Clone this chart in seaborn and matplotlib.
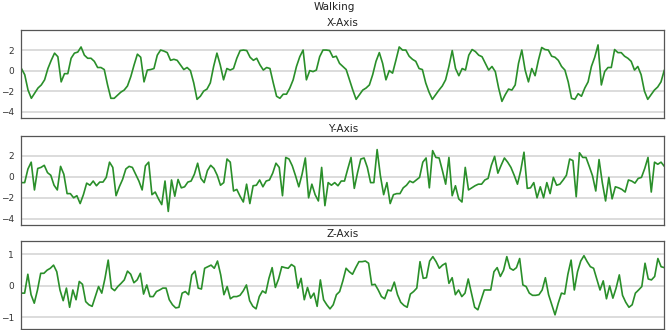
import matplotlib
matplotlib.use("Agg")
import matplotlib.pyplot as plt
import numpy as np
import seaborn as sns

# accelerometer readings, walking window
x_axis = [
    0.2, -0.4, -1.9, -2.7, -2.2, -1.7, -1.4, -0.9, 0.2, 1.0, 1.7, 1.35, -1.1, -0.3, -0.3, 1.2,
    1.7, 1.8, 2.3, 1.5, 1.2, 1.2, 0.9, 0.3, 0.3, 0.1, -1.4, -2.7, -2.7, -2.4, -2.1, -1.9, -1.5,
    -0.6, 0.55, 1.6, 1.3, -1.1, 0.05, 0.1, 0.2, 1.5, 2.0, 1.9, 1.75, 1.0, 1.1, 1.0, 0.55, 0.1,
    0.3, 0.0, -1.2, -2.8, -2.5, -2.0, -1.8, -1.2, 0.4, 1.7, 0.55, -0.9, 0.2, 0.05, 0.2,
    1.2, 1.95, 2.0, 1.95, 1.3, 1.0, 1.2, 0.55, 0.05, 0.3, 0.2, -1.2, -2.5, -2.7, -2.3, -2.3,
    -1.7, -0.9, 0.4, 1.35, 2.0, -0.9, 0.0, -0.1, 0.05, 1.35, 2.0, 2.0, 1.95, 1.3, 1.4, 0.7,
    0.4, 0.1, -0.9, -1.9, -2.8, -2.35, -1.9, -1.7, -1.4, -0.4, 0.9, 1.75, 0.7, -0.9, 0.0,
    -0.25, 1.0, 2.3, 2.0, 2.0, 1.4, 1.1, 0.9, 0.2, 0.1, -1.2, -2.1, -2.8, -2.35, -1.9, -1.5,
    -0.9, 0.4, 1.95, 0.2, -0.5, 0.2, 0.05, 1.5, 2.05, 1.85, 1.5, 1.35, 0.7, 0.05, 0.4, -0.1,
    -1.7, -3.0, -2.35, -1.8, -1.9, -1.4, 0.7, 2.0, 0.05, -1.1, 0.2, -0.5, 1.0, 2.25, 2.05,
    2.0, 1.4, 1.3, 1.0, 0.4, 0.05, -1.1, -2.7, -2.8, -2.25, -2.5, -1.7, -1.1, 0.4, 1.3, 2.5,
    -1.4, -0.1, 0.3, 0.3, 2.05, 1.75, 1.75, 1.4, 1.2, 0.9, 0.05, 0.4, -0.4, -2.0, -2.8,
    -2.35, -1.9, -1.6, -1.1, 0.05,
]
y_axis = [
    -0.55, -0.55, 0.75, 1.4, -1.25, 0.8, 0.9, 1.1, 0.4, 0.15, -0.8, -1.25, 1.0, 0.25, -1.6,
    -1.6, -2.0, -1.8, -2.55, -1.7, -0.6, -0.8, -0.4, -0.85, -0.5, -0.5, -0.05, 1.4, 0.9, -1.8,
    -0.95, -0.25, 0.75, 1.0, 0.9, 0.25, -0.4, -1.25, 1.05, 1.4, -1.7, -1.45, -2.1, -2.65, -0.4,
    -3.3, -0.3, -1.85, -0.25, -1.05, -0.95, -0.5, -0.4, 0.25, 1.3, -0.15, -0.55, 0.6, 1.1, 0.8,
    0.15, -0.8, -0.55, 1.7, 1.4, -1.35, -1.2,
    -1.85, -2.4, -0.7, -2.55, -0.85, -0.8, -0.3, -0.95, -0.4, -0.3, 0.35, 1.3, 0.9, -1.8, 1.85,
    1.7, 1.05, 0.1, -0.95, 0.25, 1.8, -2.0, -0.7, -1.7, -2.3, 0.9, -2.75, -0.55, -0.8, -0.55,
    -0.85, -0.4, -0.4, 0.75, 1.85, -1.1, 0.4, 1.7, 1.8, 0.9, -0.55, -0.55, 2.6, 0.1, -1.7,
    -0.55, -2.55, -1.7, -1.6, -1.6, -1.05, -0.8, -0.4, -0.55, -0.3, -0.05, 1.4, 1.8, -1.05,
    2.5, 1.85, 1.8,
    0.6, -0.7, 1.85, -1.8, -0.85, -2.1, -2.4, 0.9, -1.25, -1.05, -0.85, -0.7, -0.7, -0.3,
    -0.15, 1.1, 1.95, 0.35, 1.1, 1.8, 1.4, 0.9, 0.15, -0.7, 0.6, 2.35, -1.1, -1.05, -0.55,
    -2.0, -0.95, -2.0, -0.55, -1.6, -0.05, -0.8, -0.7, -0.3, 0.15, 1.7, 1.55, -1.9, 2.3, 1.85,
    1.85, 1.0, 0.1, -1.35, 1.65, -0.55, -2.3, -0.05, -2.1, -0.95, -1.05, -1.2, -1.45, -0.3,
    -0.4, -0.6, -0.15, -0.05, 0.8, 1.85, -1.45, 1.4, 1.2, 1.4, 1.0,
]
z_axis = [
    -0.23, -0.23, 0.37, -0.28, -0.55, -0.13, 0.4, 0.4, 0.5, 0.56, 0.66, 0.45, -0.13, -0.47,
    -0.07, -0.68, -0.13, -0.44, 0.14, 0.05, -0.5, -0.6, -0.65, -0.34, -0.02, -0.23, 0.24,
    0.82, -0.07, -0.15, -0.02, 0.08, 0.19, 0.47, 0.37, 0.1, 0.19, 0.4, -0.26, 0.03, -0.34,
    -0.34, -0.18, -0.13, -0.07, -0.07, -0.44, -0.6, -0.7, -0.68, -0.23, -0.18, -0.28, 0.35,
    0.47, -0.07, -0.1, 0.56, 0.61, 0.66, 0.56, 0.79, 0.35, -0.28, -0.02, -0.41, -0.34,
    -0.34, -0.3, -0.16, 0.03, -0.47, -0.65, -0.73, -0.34, -0.16, -0.23, 0.24, 0.58, -0.05,
    0.22, 0.61, 0.58, 0.56, 0.68, 0.61, -0.07, 0.24, -0.44, -0.05, -0.39, -0.23, -0.65, 0.19,
    -0.44, -0.6, -0.73, -0.6, -0.28, -0.18, 0.16, 0.56, 0.45, 0.37, 0.58, 0.77, 0.77, 0.79,
    0.72, 0.03, 0.05, -0.13, -0.34, -0.41, -0.13, -0.16, 0.12, -0.28, -0.52, -0.62, -0.68,
    -0.26, -0.18, -0.07, 0.77, 0.24, 0.26, 0.79, 0.93, 0.77,
    0.56, 0.66, 0.72, 0.08, 0.26, -0.28, -0.13, -0.34, -0.23, 0.22, -0.23, -0.68, -0.76,
    -0.44, -0.13, -0.13, -0.13, 0.45, 0.58, 0.3, 0.5, 0.93, 0.56, 0.5, 0.58, 0.87, 0.03,
    -0.02, -0.23, -0.3, -0.3, -0.28, -0.13, 0.26, -0.28, -0.6, -0.92, -0.55, -0.23, -0.26,
    0.37, 0.82, -0.13, 0.45, 0.79, 0.96, 0.77, 0.61, 0.56, 0.22, -0.13, 0.16, -0.41, 0.0,
    -0.39, -0.07, 0.35, -0.3, -0.52, -0.68, -0.6, -0.23, -0.13, -0.02, 0.72, 0.22, 0.19, 0.3,
    0.87, 0.61, 0.58,
]

titles = ["X-Axis", "Y-Axis", "Z-Axis"]
yticks = [[-4, -2, 0, 2], [-4, -2, 0, 2], [-1, 0, 1]]
ylims = [(-4.6, 3.95), (-4.6, 3.9), (-1.36, 1.43)]

sns.set_style("whitegrid", {"grid.color": "#d6d6d6", "axes.edgecolor": "#555555"})
plt.rcParams["font.family"] = ["DejaVu Sans"]

fig = plt.figure(figsize=(6.69, 3.3), dpi=100)
rects = [
    [0.032, 0.643, 0.961, 0.266],
    [0.032, 0.318, 0.961, 0.270],
    [0.032, 0.004, 0.961, 0.266],
]

for rect, vals, title, ticks, lim in zip(rects, [x_axis, y_axis, z_axis], titles, yticks, ylims):
    ax = fig.add_axes(rect)
    idx = np.arange(len(vals))
    sns.lineplot(x=idx, y=vals, ax=ax, color="#2a8f2a", linewidth=1.2)
    ax.set_xlim(0, len(vals) - 1)
    ax.set_ylim(*lim)
    ax.set_xticks([])
    ax.set_yticks(ticks)
    ax.tick_params(axis="y", labelsize=6.5, pad=2, colors="#333333")
    ax.grid(axis="y", linewidth=1.2)
    ax.set_title(title, fontsize=7.5, pad=3, color="#222222")
    ax.set_xlabel("")
    ax.set_ylabel("")
    for s in ax.spines.values():
        s.set_linewidth(0.9)

fig.suptitle("Walking", fontsize=7.5, y=0.995, color="#222222")
fig.savefig("out.png", dpi=100)
